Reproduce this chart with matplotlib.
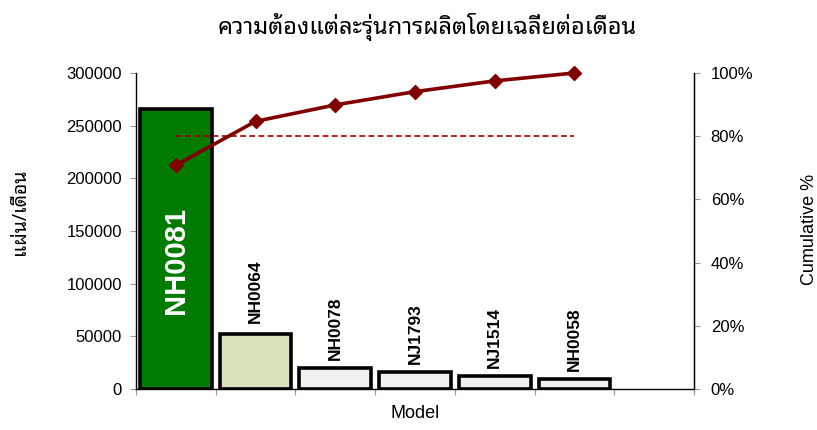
import matplotlib
matplotlib.use('Agg')
import matplotlib.pyplot as plt
from matplotlib.ticker import FuncFormatter

# ---- data ----
models = ["NH0081", "NH0064", "NH0078", "NJ1793", "NJ1514", "NH0058"]
demand = [266000, 52000, 19500, 16000, 12500, 9500]
cumulative_pct = [70.8, 84.7, 89.9, 94.1, 97.5, 100.0]
threshold_pct = 80
left_ticks = [0, 50000, 100000, 150000, 200000, 250000, 300000]
right_ticks = [0, 20, 40, 60, 80, 100]
title = "ความต้องแต่ละรุ่นการผลิตโดยเฉลี่ยต่อเดือน"
ylabel_left = "แผ่น/เดือน"
ylabel_right = "Cumulative %"
xlabel = "Model"

bar_colors = ["#007A00", "#D8E4BC", "#F0F0F0", "#F0F0F0", "#F0F0F0", "#F0F0F0"]
THAI = ["Noto Sans Thai Looped", "Liberation Sans", "DejaVu Sans"]
LAT = ["Liberation Sans", "DejaVu Sans"]

plt.rcParams['font.family'] = LAT

fig = plt.figure(figsize=(8.17, 4.30), dpi=100)
ax = fig.add_axes([136 / 817, 1 - 389 / 430, (694 - 136) / 817, (389 - 73) / 430])
ax2 = ax.twinx()

n_slots = len(models) + 1
x = list(range(len(models)))
ax.bar(x, demand, width=0.9, color=bar_colors, edgecolor="black", linewidth=2.6, zorder=2)
ax.set_xlim(-0.5, n_slots - 0.5)
ax.set_ylim(0, 300000)
ax.set_yticks(left_ticks)
ax.set_xticks([i - 0.5 for i in range(n_slots + 1)])
ax.set_xticklabels([])

# bar labels
for i, (m, v) in enumerate(zip(models, demand)):
    if i == 0:
        ax.text(i, v * 0.46, m, rotation=90, ha="center", va="center",
                color="white", fontsize=21, fontweight="bold", zorder=5)
    else:
        ax.annotate(m, (i, v), xytext=(0, 8 if i == 1 else 6), textcoords="offset points",
                    rotation=90, ha="center", va="bottom", fontsize=12.5,
                    fontweight="bold", color="black", zorder=5)

# cumulative line
ax2.plot(x, cumulative_pct, color="#800000", linewidth=2.6, marker="D",
         markersize=7.5, zorder=4, clip_on=False)
ax2.plot([x[0], x[-1]], [threshold_pct, threshold_pct], color="#9B0000",
         linewidth=1.2, linestyle=(0, (3.5, 2)), zorder=3)
ax2.set_ylim(0, 100)
ax2.set_yticks(right_ticks)
ax2.yaxis.set_major_formatter(FuncFormatter(lambda v, p: "%d%%" % v))

for a in (ax, ax2):
    a.spines["top"].set_visible(False)
    a.tick_params(labelsize=12, colors="black", length=4, width=0.8)
    a.set_facecolor("none")
ax.tick_params(axis="both", color="#999999")
ax.tick_params(axis="y", pad=6)
ax2.tick_params(axis="y", color="#999999", pad=8)
ax.spines["left"].set_linewidth(1.0)
ax.spines["bottom"].set_linewidth(1.0)
ax2.spines["right"].set_linewidth(1.0)
ax2.spines["left"].set_visible(False)
ax2.spines["bottom"].set_visible(False)
ax.set_zorder(ax2.get_zorder() - 1)
ax.patch.set_visible(False)

ax.set_xlabel(xlabel, fontsize=13, va="center")
ax.xaxis.set_label_coords((415 - 136) / 558, (389 - 414) / 316)
ax.set_ylabel(ylabel_left, fontsize=14, fontweight="bold", family=THAI, va="center")
ax.yaxis.set_label_coords((20 - 136) / 558, (389 - 212) / 316)
ax2.set_ylabel(ylabel_right, fontsize=13, va="center")
ax2.yaxis.set_label_coords((810 - 136) / 558, (389 - 229) / 316)

fig.text(427 / 817, 1 - 27 / 430, title, ha="center", va="center",
         fontsize=17, fontweight="bold", family=THAI)

fig.savefig("out.png", dpi=100)
